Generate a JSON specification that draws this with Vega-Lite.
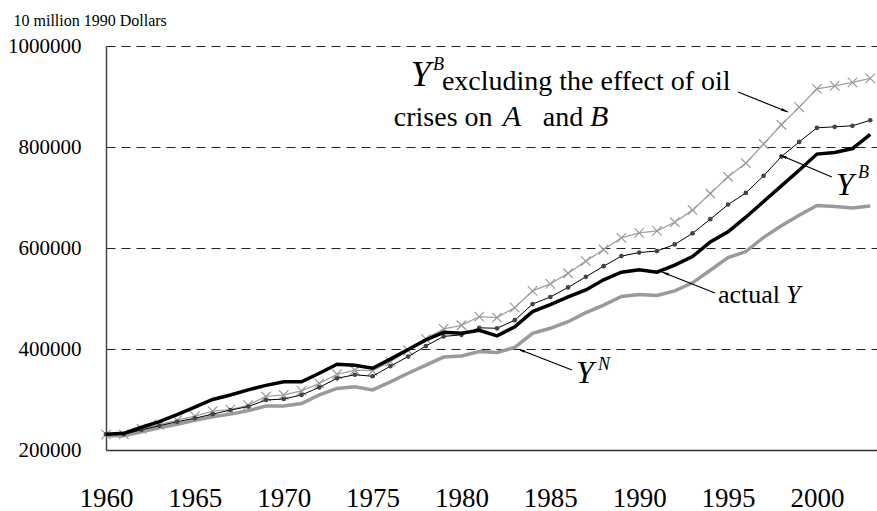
{
  "$schema": "https://vega.github.io/schema/vega-lite/v6.json",
  "width": 771,
  "height": 404,
  "autosize": {"type": "none"},
  "padding": {"left": 106, "top": 46, "right": 0, "bottom": 61},
  "background": "white",
  "config": {
    "view": {"stroke": null},
    "font": "Liberation Serif",
    "axis": {"labelFont": "Liberation Serif", "titleFont": "Liberation Serif", "labelColor": "black"}
  },
  "datasets": {
    "actual": [
      {"year":1960,"value":231000},{"year":1961,"value":233000},{"year":1962,"value":245000},{"year":1963,"value":256000},
      {"year":1964,"value":270000},{"year":1965,"value":285000},{"year":1966,"value":300000},{"year":1967,"value":309000},
      {"year":1968,"value":319000},{"year":1969,"value":328000},{"year":1970,"value":335000},{"year":1971,"value":335000},
      {"year":1972,"value":352000},{"year":1973,"value":370000},{"year":1974,"value":368000},{"year":1975,"value":362000},
      {"year":1976,"value":380000},{"year":1977,"value":399000},{"year":1978,"value":418000},{"year":1979,"value":433000},
      {"year":1980,"value":431000},{"year":1981,"value":437000},{"year":1982,"value":426000},{"year":1983,"value":444000},
      {"year":1984,"value":474000},{"year":1985,"value":488000},{"year":1986,"value":503000},{"year":1987,"value":517000},
      {"year":1988,"value":537000},{"year":1989,"value":552000},{"year":1990,"value":557000},{"year":1991,"value":552000},
      {"year":1992,"value":566000},{"year":1993,"value":583000},{"year":1994,"value":612000},{"year":1995,"value":632000},
      {"year":1996,"value":661000},{"year":1997,"value":692000},{"year":1998,"value":723000},{"year":1999,"value":754000},
      {"year":2000,"value":786000},{"year":2001,"value":789000},{"year":2002,"value":797000},{"year":2003,"value":825000}
    ],
    "yb": [
      {"year":1960,"value":231000},{"year":1961,"value":231000},{"year":1962,"value":240000},{"year":1963,"value":248000},
      {"year":1964,"value":256000},{"year":1965,"value":263000},{"year":1966,"value":271000},{"year":1967,"value":279000},
      {"year":1968,"value":286000},{"year":1969,"value":299000},{"year":1970,"value":301000},{"year":1971,"value":309000},
      {"year":1972,"value":324000},{"year":1973,"value":342000},{"year":1974,"value":349000},{"year":1975,"value":346000},
      {"year":1976,"value":366000},{"year":1977,"value":385000},{"year":1978,"value":406000},{"year":1979,"value":425000},
      {"year":1980,"value":428000},{"year":1981,"value":442000},{"year":1982,"value":441000},{"year":1983,"value":457000},
      {"year":1984,"value":489000},{"year":1985,"value":503000},{"year":1986,"value":522000},{"year":1987,"value":543000},
      {"year":1988,"value":564000},{"year":1989,"value":584000},{"year":1990,"value":591000},{"year":1991,"value":594000},
      {"year":1992,"value":607000},{"year":1993,"value":629000},{"year":1994,"value":657000},{"year":1995,"value":686000},
      {"year":1996,"value":709000},{"year":1997,"value":743000},{"year":1998,"value":781000},{"year":1999,"value":810000},
      {"year":2000,"value":838000},{"year":2001,"value":840000},{"year":2002,"value":842000},{"year":2003,"value":853000}
    ],
    "ybx": [
      {"year":1960,"value":231000},{"year":1961,"value":231000},{"year":1962,"value":242000},{"year":1963,"value":250000},
      {"year":1964,"value":259000},{"year":1965,"value":267000},{"year":1966,"value":277000},{"year":1967,"value":280000},
      {"year":1968,"value":289000},{"year":1969,"value":306000},{"year":1970,"value":309000},{"year":1971,"value":317000},
      {"year":1972,"value":332000},{"year":1973,"value":350000},{"year":1974,"value":358000},{"year":1975,"value":357000},
      {"year":1976,"value":375000},{"year":1977,"value":397000},{"year":1978,"value":420000},{"year":1979,"value":440000},
      {"year":1980,"value":447000},{"year":1981,"value":464000},{"year":1982,"value":462000},{"year":1983,"value":482000},
      {"year":1984,"value":515000},{"year":1985,"value":529000},{"year":1986,"value":550000},{"year":1987,"value":574000},
      {"year":1988,"value":597000},{"year":1989,"value":620000},{"year":1990,"value":630000},{"year":1991,"value":634000},
      {"year":1992,"value":651000},{"year":1993,"value":675000},{"year":1994,"value":708000},{"year":1995,"value":741000},
      {"year":1996,"value":768000},{"year":1997,"value":806000},{"year":1998,"value":844000},{"year":1999,"value":879000},
      {"year":2000,"value":915000},{"year":2001,"value":921000},{"year":2002,"value":928000},{"year":2003,"value":936000}
    ],
    "yn": [
      {"year":1960,"value":228000},{"year":1961,"value":228000},{"year":1962,"value":236000},{"year":1963,"value":244000},
      {"year":1964,"value":251000},{"year":1965,"value":259000},{"year":1966,"value":266000},{"year":1967,"value":271000},
      {"year":1968,"value":278000},{"year":1969,"value":287000},{"year":1970,"value":287000},{"year":1971,"value":292000},
      {"year":1972,"value":309000},{"year":1973,"value":322000},{"year":1974,"value":325000},{"year":1975,"value":319000},
      {"year":1976,"value":335000},{"year":1977,"value":352000},{"year":1978,"value":368000},{"year":1979,"value":384000},
      {"year":1980,"value":386000},{"year":1981,"value":395000},{"year":1982,"value":393000},{"year":1983,"value":403000},
      {"year":1984,"value":431000},{"year":1985,"value":441000},{"year":1986,"value":454000},{"year":1987,"value":472000},
      {"year":1988,"value":487000},{"year":1989,"value":504000},{"year":1990,"value":508000},{"year":1991,"value":506000},
      {"year":1992,"value":515000},{"year":1993,"value":531000},{"year":1994,"value":556000},{"year":1995,"value":581000},
      {"year":1996,"value":593000},{"year":1997,"value":621000},{"year":1998,"value":644000},{"year":1999,"value":665000},
      {"year":2000,"value":684000},{"year":2001,"value":682000},{"year":2002,"value":679000},{"year":2003,"value":683000}
    ],
    "ticks": [
      {"year":1965},{"year":1970},{"year":1975},{"year":1980},{"year":1985},{"year":1990},{"year":1995},{"year":2000}
    ],
    "labels": [
      {"part":"ybx_Y","text":"Y","year":1977.15,"value":920800},
      {"part":"ybx_B","text":"B","year":1978.4,"value":952500},
      {"part":"ybx_l1","text":"excluding the effect of oil","year":1978.9,"value":912900},
      {"part":"ybx_l2","text":"crises on","year":1981.75,"value":841600},
      {"part":"ybx_A2","text":"A","year":1982.33,"value":841600},
      {"part":"ybx_and","text":"and","year":1984.58,"value":841600},
      {"part":"ybx_B2","text":"B","year":1987.23,"value":841600},
      {"part":"yb_Y","text":"Y","year":2001.07,"value":705000},
      {"part":"yb_B","text":"B","year":2002.31,"value":738600},
      {"part":"act_t","text":"actual","year":1994.43,"value":491100},
      {"part":"act_Y","text":"Y","year":1998.26,"value":491100},
      {"part":"yn_Y","text":"Y","year":1986.44,"value":332700},
      {"part":"yn_N","text":"N","year":1987.68,"value":358400}
    ],
    "arrows": [
      {"arrow":"ybx","year":1995.56,"value":908900,"year2":1998.37,"value2":869300},
      {"arrow":"yb","year":2000.84,"value":740600,"year2":1997.92,"value2":784200},
      {"arrow":"act","year":1994.26,"value":510900,"year2":1991.28,"value2":552500},
      {"arrow":"yn","year":1986.22,"value":358400,"year2":1983.18,"value2":400000}
    ]
  },
  "encoding": {
    "x": {"field": "year", "type": "quantitative", "scale": {"domain": [1960, 2003.38], "nice": false, "zero": false},
      "axis": {"values": [1960,1965,1970,1975,1980,1985,1990,1995,2000], "format": "d", "title": null, "grid": false,
        "domainColor": "#333", "domainWidth": 1.5, "ticks": false,
        "labelFontSize": 27, "labelBaseline": "alphabetic", "labelPadding": 56, "labelFlush": false}},
    "y": {"field": "value", "type": "quantitative", "scale": {"domain": [200000, 1000000], "nice": false, "zero": false},
      "axis": {"values": [200000,400000,600000,800000,1000000], "format": "d", "ticks": false,
        "domainColor": "#444", "domainWidth": 1.5,
        "grid": true, "gridColor": "#222", "gridDash": [9, 6], "gridWidth": 1,
        "labelFontSize": 21, "labelPadding": 25, "labelBaseline": "middle",
        "title": "10 million 1990 Dollars", "titleAngle": 0, "titleX": -93, "titleY": -21,
        "titleAlign": "left", "titleBaseline": "alphabetic", "titleFontSize": 16, "titleFontWeight": "normal", "titleColor": "black"}}
  },
  "layer": [
    {"data": {"name": "ticks"}, "mark": {"type": "rule", "color": "#333", "strokeWidth": 1.3},
      "encoding": {"y": {"datum": 200000}, "y2": {"datum": 219800}}},
    {"data": {"name": "yn"}, "mark": {"type": "line", "color": "#9a9a9a", "strokeWidth": 3.5}},
    {"data": {"name": "ybx"}, "mark": {"type": "line", "color": "#a0a0a0", "strokeWidth": 1.3}},
    {"data": {"name": "ybx"}, "mark": {"type": "point", "shape": "M-1,-1L1,1M-1,1L1,-1", "filled": false, "stroke": "#999", "strokeWidth": 1.2, "size": 90, "opacity": 1}},
    {"data": {"name": "yb"}, "mark": {"type": "line", "color": "black", "strokeWidth": 1}},
    {"data": {"name": "yb"}, "mark": {"type": "point", "shape": "circle", "filled": true, "color": "#444", "size": 22, "opacity": 1}},
    {"data": {"name": "actual"}, "mark": {"type": "line", "color": "black", "strokeWidth": 3.5}},
    {"data": {"name": "arrows"}, "mark": {"type": "rule", "color": "black", "strokeWidth": 1.3},
      "encoding": {"x2": {"field": "year2"}, "y2": {"field": "value2"}}},
    {"data": {"name": "arrows"}, "transform": [{"filter": "datum.arrow == 'ybx'"}],
      "mark": {"type": "point", "shape": "M0,0L0.45,2.2L-0.45,2.2Z", "filled": true, "color": "black", "size": 40, "angle": 111.8, "opacity": 1},
      "encoding": {"x": {"field": "year2", "type": "quantitative"}, "y": {"field": "value2", "type": "quantitative"}}},
    {"data": {"name": "arrows"}, "transform": [{"filter": "datum.arrow == 'yb'"}],
      "mark": {"type": "point", "shape": "M0,0L0.45,2.2L-0.45,2.2Z", "filled": true, "color": "black", "size": 40, "angle": 292.9, "opacity": 1},
      "encoding": {"x": {"field": "year2", "type": "quantitative"}, "y": {"field": "value2", "type": "quantitative"}}},
    {"data": {"name": "arrows"}, "transform": [{"filter": "datum.arrow == 'act'"}],
      "mark": {"type": "point", "shape": "M0,0L0.45,2.2L-0.45,2.2Z", "filled": true, "color": "black", "size": 40, "angle": 290.7, "opacity": 1},
      "encoding": {"x": {"field": "year2", "type": "quantitative"}, "y": {"field": "value2", "type": "quantitative"}}},
    {"data": {"name": "arrows"}, "transform": [{"filter": "datum.arrow == 'yn'"}],
      "mark": {"type": "point", "shape": "M0,0L0.45,2.2L-0.45,2.2Z", "filled": true, "color": "black", "size": 40, "angle": 291.3, "opacity": 1},
      "encoding": {"x": {"field": "year2", "type": "quantitative"}, "y": {"field": "value2", "type": "quantitative"}}},
    {"data": {"name": "labels"}, "transform": [{"filter": {"field": "part", "oneOf": ["ybx_Y"]}}],
      "mark": {"type": "text", "font": "Liberation Serif", "fontStyle": "italic", "fontSize": 36, "align": "left", "baseline": "alphabetic", "color": "black"},
      "encoding": {"text": {"field": "text"}}},
    {"data": {"name": "labels"}, "transform": [{"filter": {"field": "part", "oneOf": ["yb_Y", "yn_Y"]}}],
      "mark": {"type": "text", "font": "Liberation Serif", "fontStyle": "italic", "fontSize": 32, "align": "left", "baseline": "alphabetic", "color": "black"},
      "encoding": {"text": {"field": "text"}}},
    {"data": {"name": "labels"}, "transform": [{"filter": {"field": "part", "oneOf": ["ybx_B", "yb_B", "yn_N"]}}],
      "mark": {"type": "text", "font": "Liberation Serif", "fontStyle": "italic", "fontSize": 18, "align": "left", "baseline": "alphabetic", "color": "black"},
      "encoding": {"text": {"field": "text"}}},
    {"data": {"name": "labels"}, "transform": [{"filter": {"field": "part", "oneOf": ["ybx_l1", "ybx_and"]}}],
      "mark": {"type": "text", "font": "Liberation Serif", "fontSize": 28, "align": "left", "baseline": "alphabetic", "color": "black"},
      "encoding": {"text": {"field": "text"}}},
    {"data": {"name": "labels"}, "transform": [{"filter": {"field": "part", "oneOf": ["ybx_l2"]}}],
      "mark": {"type": "text", "font": "Liberation Serif", "fontSize": 28, "align": "right", "baseline": "alphabetic", "color": "black"},
      "encoding": {"text": {"field": "text"}}},
    {"data": {"name": "labels"}, "transform": [{"filter": {"field": "part", "oneOf": ["ybx_A2", "ybx_B2"]}}],
      "mark": {"type": "text", "font": "Liberation Serif", "fontStyle": "italic", "fontSize": 30, "align": "left", "baseline": "alphabetic", "color": "black"},
      "encoding": {"text": {"field": "text"}}},
    {"data": {"name": "labels"}, "transform": [{"filter": {"field": "part", "oneOf": ["act_t"]}}],
      "mark": {"type": "text", "font": "Liberation Serif", "fontSize": 26, "align": "left", "baseline": "alphabetic", "color": "black"},
      "encoding": {"text": {"field": "text"}}},
    {"data": {"name": "labels"}, "transform": [{"filter": {"field": "part", "oneOf": ["act_Y"]}}],
      "mark": {"type": "text", "font": "Liberation Serif", "fontStyle": "italic", "fontSize": 26, "align": "left", "baseline": "alphabetic", "color": "black"},
      "encoding": {"text": {"field": "text"}}}
  ]
}
